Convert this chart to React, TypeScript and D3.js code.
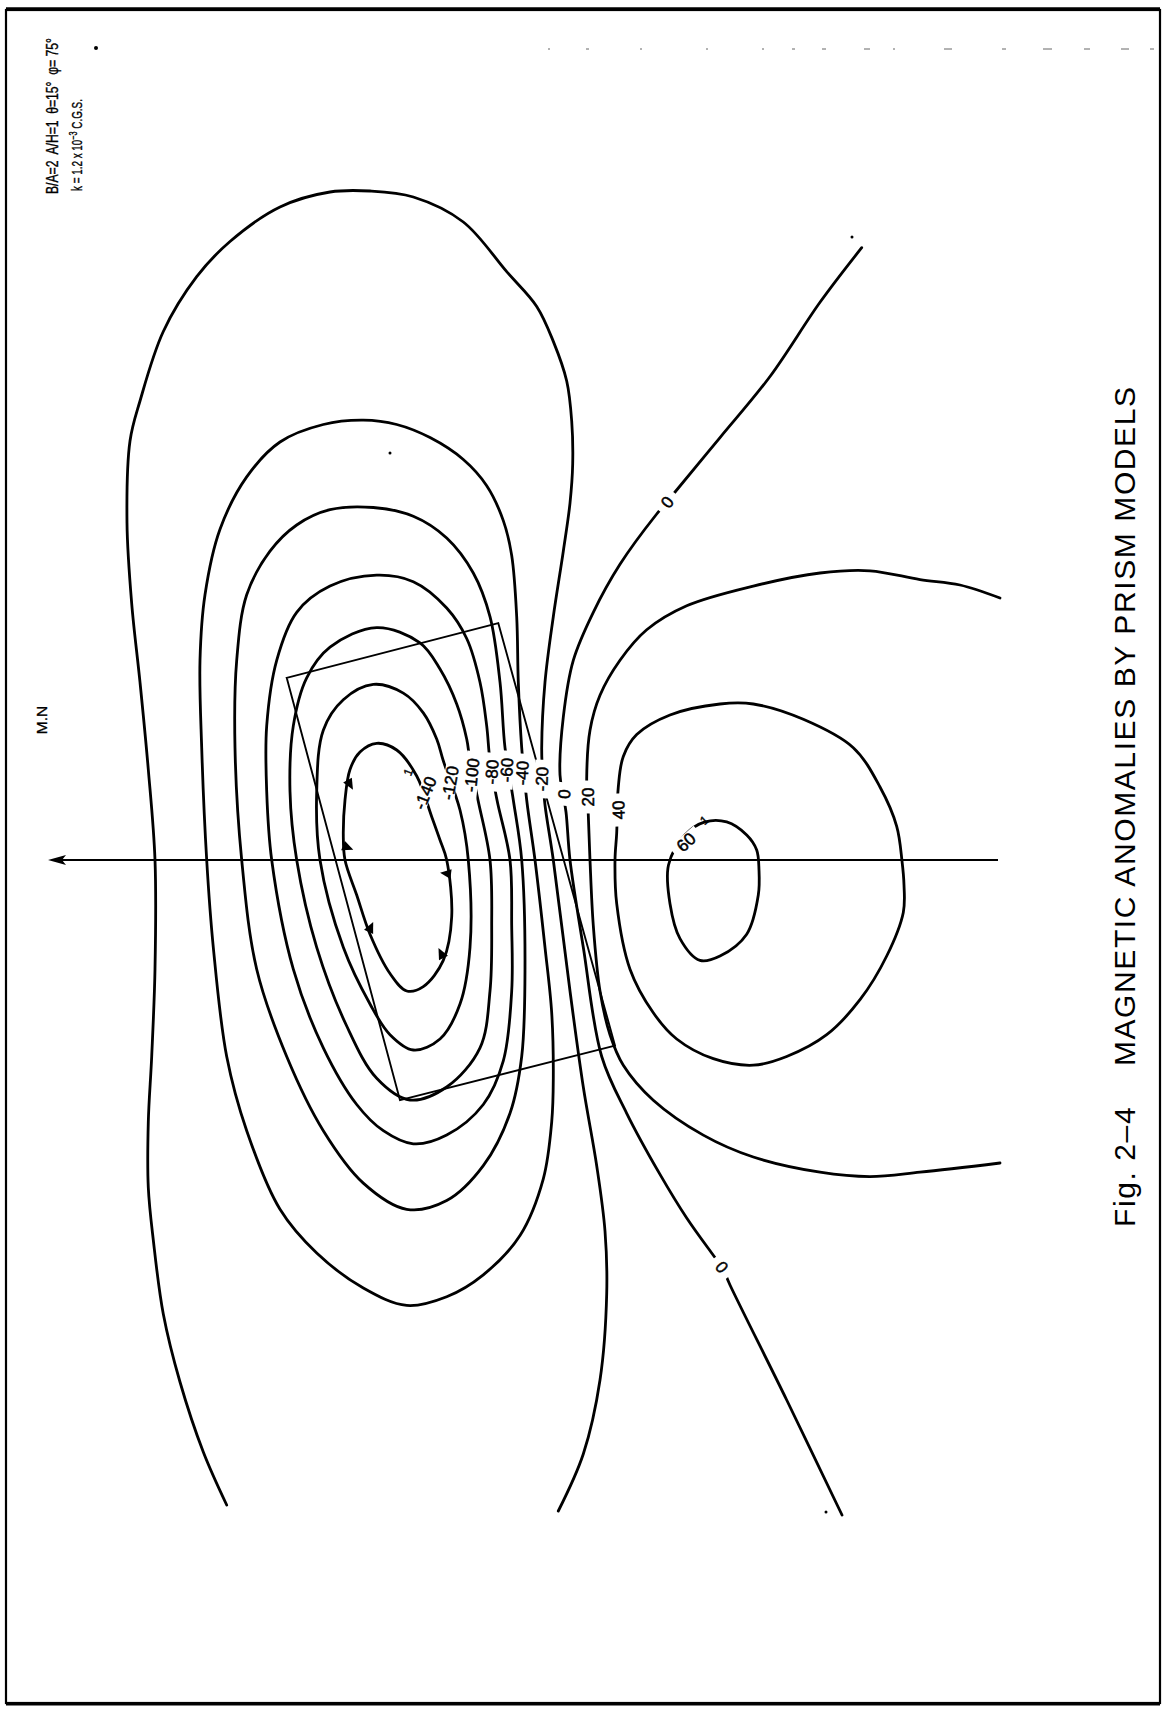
import React, { useEffect, useRef } from 'react';
import * as d3 from 'd3';

const W = 1165, H = 1710;

// contour lines, map units (x across the sheet, y down the sheet)
const contourNeg140 = [[416.7,776],[396.7,750],[376.7,743.3],[360,752],[350,769.5],[345,800],[343.3,835],[345,860],[356.7,895],[370,934.2],[390,973.5],[406.7,991],[423.3,986.6],[443.3,960.4],[451.7,916.8],[446.7,860],[440,840],[431.7,816.7]];
const contourNeg120 = [[443.3,760.8],[436.7,739],[423.3,712.8],[403.3,693.1],[373.3,684.4],[343.3,699.7],[323.3,730.2],[316.7,791.4],[320,860],[343.3,947.3],[370,1004],[390,1034.7],[413.3,1050],[440,1039],[460,1004],[470,947.3],[468.3,860],[460,810]];
const contourNeg100 = [[470,760.8],[466.7,739],[456.7,704],[440,669.1],[420,642.9],[376.7,627.6],[330,647.2],[306.7,677.8],[293.3,725.9],[290,791.4],[296.7,860],[316.7,947.3],[346.7,1026],[376.7,1078.3],[410,1100],[446.7,1087],[480,1047.8],[490,991],[491.7,925.5],[490,860],[478,800]];
const contourNeg80 = [[490,760.8],[486.7,725.9],[480,682.2],[466.7,638.5],[446.7,608],[413.3,581.7],[376.7,575.2],[330,586.1],[296.7,612.3],[276.7,660.3],[266.7,725.9],[266.7,791.4],[271.7,860],[293.3,969.2],[323.3,1047.8],[356.7,1104.5],[383.3,1130.7],[413.3,1143.8],[446.7,1135],[483.3,1104.5],[503.3,1060.9],[511.7,991],[511.7,925.5],[510,860],[497,800]];
const contourNeg60 = [[505,747.7],[500,682.2],[490,616.7],[473.3,573],[446.7,538],[413.3,516.2],[373.3,507.5],[330,509.7],[296.7,525],[270,551.2],[246.7,594.8],[236.7,660.3],[235,747.7],[241.7,860],[256.7,969.2],[286.7,1056.5],[323.3,1130.7],[363.3,1183.1],[406.7,1209.3],[446.7,1200.6],[483.3,1165.7],[510,1113.3],[521.7,1056.5],[525,969.2],[521.7,860],[513.3,800]];
const contourNeg40 = [[521.7,747.7],[518.3,682.2],[516.7,616.7],[511.7,555.5],[503.3,520.6],[486.7,485.7],[463.3,459.5],[430,437.6],[396.7,424.5],[363.3,420.2],[323.3,424.5],[280,442],[246.7,476.9],[220,529.3],[205,594.8],[200,660.3],[201.7,747.7],[206.7,860],[213.3,947.3],[226.7,1056.5],[246.7,1130.7],[280,1209.3],[316.7,1253],[363.3,1288],[406.7,1305.4],[446.7,1296.7],[483.3,1274.8],[520,1235.5],[543.3,1178.8],[551.7,1122],[553.3,1078.3],[551.7,1012.8],[545,947.3],[535,860],[526.7,800]];
const contourNeg20 = [[226.7,1505],[203.3,1452],[180,1382],[163.3,1314],[153.3,1240],[148.3,1187.5],[148.3,1122],[151.7,1056.5],[155,969],[155,860],[148.3,769.5],[140,682.2],[131.7,603.6],[127,523],[130,441],[140,401],[163.3,331.5],[196.7,276.7],[230,241.5],[280,207],[330,192],[370,191],[413.3,197],[463.3,222],[506.7,271.7],[536.7,306.4],[553.3,341.4],[566.7,381],[571.7,421],[572.7,463.8],[570,503.1],[563.3,551.2],[553.3,616.7],[545,682.2],[541.7,747.7],[543,781],[545,805],[553.3,860],[570,991],[583.3,1087],[596.7,1165.7],[605,1231],[606.7,1294],[600,1380],[583.3,1454],[558.3,1511]];
const contourZero = [[861.7,247.7],[820,302.3],[770,376.5],[720,437.6],[676.7,490],[667,502],[656.7,514],[620,564.3],[593.3,612.3],[573.3,660.3],[563.3,717.1],[560,775],[563,794],[566,812],[570,860],[583.3,947.3],[601.7,1056.5],[626.7,1113.3],[660,1174.4],[686.7,1218],[713.3,1255.2],[722,1267],[730,1285],[786.7,1400],[842,1515]];
const contourPos20 = [[1000,598],[960,585],[920,579.6],[870,570.8],[820,573],[753.3,586.1],[686.7,605.8],[646.7,629.8],[620,660.3],[600,695.3],[590,730.2],[586.7,778.3],[587.5,797],[588.3,815],[590,860],[593.3,925.5],[600,991],[610,1034.7],[623.3,1065.2],[653.3,1100.2],[703.3,1135.1],[753.3,1157],[820,1172.2],[870,1176.6],[920,1172.2],[1000,1163]];
const contourPos40 = [[618.3,787],[623.3,756.4],[636.7,734.6],[670,715],[720,704],[753.3,704],[803.3,719.3],[853.3,747.7],[880,787],[896.7,826.3],[902,861],[904,885],[903.3,912.4],[886.7,956],[860,999.7],[826.7,1034.7],[786.7,1056.5],[753.3,1065.2],[713.3,1058.7],[676.7,1039],[653.3,1012.8],[630,969.2],[616.7,903.7],[615,860],[616.7,833]];
const contourPos60 = [[668.5,865],[670,903.7],[680,938.6],[700,960.4],[720,956],[746.7,934.2],[758.3,895],[759,870],[756.7,850],[746.7,835],[726.7,821.9],[705,821.9],[685,835]];

const closedContours = [contourNeg140, contourNeg120, contourNeg100, contourNeg80, contourNeg60, contourNeg40, contourPos40, contourPos60];
const openContours = [contourNeg20, contourZero, contourPos20];

// contour labels: text, x, y, angle
const labelText = ['-140', '-120', '-100', '-80', '-60', '-40', '-20', '0', '20', '40', '60', '0', '0'];
const labelX = [425, 450, 471.7, 491.7, 506.5, 522, 541.7, 564, 587.5, 618.3, 686, 667, 722];
const labelY = [793, 783, 775, 772, 770, 773, 779, 794, 797, 810, 842, 502, 1267];
const labelAngle = [-68, -80, -84, -86, -87, -87, -88, -85, -90, -92, -42, -52, 52];

// hachures on the -140 low
const hachures = [[348, 781], [344, 846], [369, 931], [450, 874], [443, 957]];
const lowCentre = [398, 868];

// prism outline (plan view)
const prism = [[286.7, 677.8], [498.3, 623.2], [615, 1045.6], [400, 1100.2]];

// magnetic north line
const northLine = { y: 860, x0: 48, x1: 998 };

// stray specks on the sheet
const specks = [[390, 453], [852, 237], [826, 1512], [96, 48]];
const topDashX = [548, 586, 640, 706, 762, 792, 822, 864, 893, 944, 1002, 1043, 1084, 1121, 1150];
const topDashLen = [2, 3, 2, 2, 2, 3, 4, 6, 2, 8, 4, 9, 6, 8, 4];

const header1 = 'B/A=2  A/H=1  θ=15°  φ= 75°';
const caption = 'Fig. 2–4    MAGNETIC ANOMALIES BY PRISM MODELS';

const FONT = '"Liberation Sans", Arial, Helvetica, sans-serif';
const NARROW = '"Liberation Sans Narrow", "Liberation Sans", Arial, sans-serif';

export default function App() {
  const svgRef = useRef(null);

  useEffect(() => {
    const svg = d3.select(svgRef.current);
    svg.selectAll('*').remove();

    const x = d3.scaleLinear().domain([0, 1165]).range([0, W]);
    const y = d3.scaleLinear().domain([0, 1710]).range([0, H]);

    svg.append('rect').attr('width', W).attr('height', H).attr('fill', '#fff');

    // frame
    svg.append('rect')
      .attr('x', x(6)).attr('y', y(10))
      .attr('width', x(1160) - x(6)).attr('height', y(1703) - y(10))
      .attr('fill', 'none').attr('stroke', '#000').attr('stroke-width', 2.2);
    svg.append('line')
      .attr('x1', x(6)).attr('x2', x(1160)).attr('y1', y(9)).attr('y2', y(9))
      .attr('stroke', '#000').attr('stroke-width', 3.5);
    svg.append('line')
      .attr('x1', x(6)).attr('x2', x(1160)).attr('y1', y(1704)).attr('y2', y(1704))
      .attr('stroke', '#000').attr('stroke-width', 3);

    // scan dashes near the top edge
    topDashX.forEach((dx, i) => {
      svg.append('line')
        .attr('x1', x(dx)).attr('x2', x(dx + topDashLen[i]))
        .attr('y1', y(49)).attr('y2', y(49))
        .attr('stroke', '#666').attr('stroke-width', 1);
    });

    const lineOpen = d3.line().x(d => x(d[0])).y(d => y(d[1])).curve(d3.curveCatmullRom.alpha(0.5));
    const lineClosed = d3.line().x(d => x(d[0])).y(d => y(d[1])).curve(d3.curveCatmullRomClosed.alpha(0.5));

    // prism
    svg.append('path')
      .attr('d', d3.line().x(d => x(d[0])).y(d => y(d[1])).curve(d3.curveLinearClosed)(prism))
      .attr('fill', 'none').attr('stroke', '#000').attr('stroke-width', 1.9);

    // north line + arrow
    svg.append('line')
      .attr('x1', x(northLine.x0 + 4)).attr('x2', x(northLine.x1))
      .attr('y1', y(northLine.y)).attr('y2', y(northLine.y))
      .attr('stroke', '#000').attr('stroke-width', 1.9);
    const ax = x(northLine.x0), ay = y(northLine.y);
    svg.append('path')
      .attr('d', `M${ax},${ay} L${ax + 18},${ay - 5} L${ax + 14},${ay} L${ax + 18},${ay + 5} Z`)
      .attr('fill', '#000');
    svg.append('text')
      .attr('transform', `translate(${x(47)},${y(720)}) rotate(-90)`)
      .attr('text-anchor', 'middle')
      .attr('font-family', FONT).attr('font-size', 15.5)
      .attr('stroke', '#000').attr('stroke-width', 0.3)
      .text('M.N');

    // contours
    const g = svg.append('g').attr('fill', 'none').attr('stroke', '#000')
      .attr('stroke-width', 2.8).attr('stroke-linejoin', 'round').attr('stroke-linecap', 'round');
    closedContours.forEach(c => g.append('path').attr('d', lineClosed(c)));
    openContours.forEach(c => g.append('path').attr('d', lineOpen(c)));

    // hachure ticks pointing into the low
    hachures.forEach(([hx, hy]) => {
      const dx = lowCentre[0] - hx, dy = lowCentre[1] - hy;
      const a = Math.atan2(dy, dx) * 180 / Math.PI;
      svg.append('path')
        .attr('transform', `translate(${x(hx)},${y(hy)}) rotate(${a})`)
        .attr('d', 'M-1,-5 L10,0 L-1,5 Z')
        .attr('fill', '#000');
    });

    // labels with gaps in the lines
    labelText.forEach((t, i) => {
      const lg = svg.append('g')
        .attr('transform', `translate(${x(labelX[i])},${y(labelY[i])}) rotate(${labelAngle[i]})`);
      const bg = lg.append('rect').attr('fill', '#fff');
      const tx = lg.append('text')
        .attr('text-anchor', 'middle').attr('dy', '0.36em')
        .attr('font-family', FONT).attr('font-size', 17)
        .attr('stroke', '#000').attr('stroke-width', 0.5)
        .text(t);
      const bb = tx.node().getBBox();
      bg.attr('x', bb.x - 7).attr('y', -7).attr('width', bb.width + 14).attr('height', 14);
    });

    // little tick marks beside two labels
    [[408, 772, -68], [704, 820, -42]].forEach(([mx, my, ma]) => {
      svg.append('text')
        .attr('transform', `translate(${x(mx)},${y(my)}) rotate(${ma})`)
        .attr('text-anchor', 'middle').attr('dy', '0.36em')
        .attr('font-family', FONT).attr('font-size', 12)
        .attr('stroke', '#000').attr('stroke-width', 0.4)
        .text('1');
    });

    specks.forEach(([sx, sy], i) => {
      svg.append('circle').attr('cx', x(sx)).attr('cy', y(sy)).attr('r', i === 3 ? 2 : 1.5).attr('fill', '#000');
    });

    // parameters: squeezed with a transform so the text keeps its true extent
    const fitText = (node, px, py, target) => {
      const len = node.node().getComputedTextLength();
      const k = Math.min(1, target / len);
      node.attr('transform', `translate(${x(px)},${y(py)}) rotate(-90) scale(${k},1)`);
    };
    const h1 = svg.append('text')
      .attr('font-family', NARROW).attr('font-size', 16)
      .attr('stroke', '#000').attr('stroke-width', 0.35)
      .style('white-space', 'pre')
      .text(header1);
    fitText(h1, 58, 194, 156);
    const h2 = svg.append('text')
      .attr('font-family', NARROW).attr('font-size', 15)
      .attr('stroke', '#000').attr('stroke-width', 0.35)
      .style('white-space', 'pre');
    h2.append('tspan').text('k = 1.2 x 10');
    h2.append('tspan').attr('dy', -5).attr('font-size', 11).text('−3');
    h2.append('tspan').attr('dy', 5).text(' C.G.S.');
    fitText(h2, 82, 191, 92);

    // caption
    svg.append('text')
      .attr('transform', `translate(${x(1135)},${y(1227)}) rotate(-90)`)
      .attr('font-family', FONT).attr('font-size', 30)
      .style('white-space', 'pre')
      .attr('textLength', 840).attr('lengthAdjust', 'spacing')
      .text(caption);
  }, []);

  return (
    <svg ref={svgRef} width={W} height={H}
      style={{ position: 'absolute', left: 0, top: 0, display: 'block' }} />
  );
}
